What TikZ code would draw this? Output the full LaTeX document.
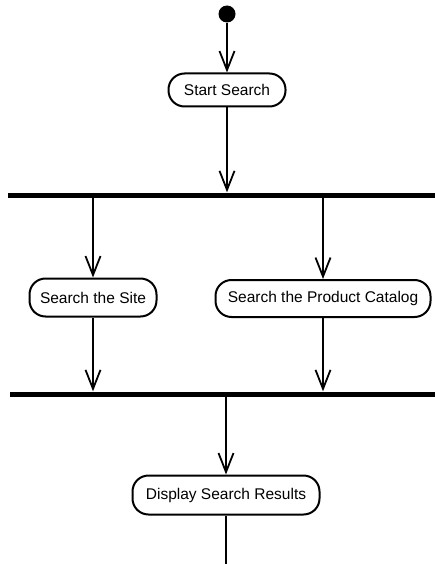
\documentclass[tikz,border=0pt]{standalone}
\usepackage{fontspec}
\setmainfont{Liberation Sans}
\usetikzlibrary{arrows.meta}
\begin{document}
\begin{tikzpicture}[x=1pt,y=-1pt,
  act/.style={draw, line width=2pt, rectangle, rounded corners=16pt, inner sep=0pt,
    font=\fontsize{15.5}{18}\selectfont},
  flow/.style={line width=2pt,
    -{Straight Barb[length=19pt,width=15pt,line width=1.8pt]}},
  plain/.style={line width=2pt},
  bar/.style={fill=black, inner sep=0pt, minimum height=5pt},
  initial/.style={fill=black, circle, inner sep=0pt, minimum size=17pt}]
\useasboundingbox (0,0) rectangle (435,564);

% activity nodes, fork/join bars and the initial state
\node[initial] (init) at (227,14) {};
\node[act, minimum width=117pt, minimum height=33pt] (start) at (227,90) {Start Search};
\node[bar, minimum width=427pt] (fork) at (221.5,195) {};
\node[act, minimum width=127pt, minimum height=38pt] (site) at (93,297.5) {Search the Site};
\node[act, minimum width=215pt, minimum height=37pt] (cat) at (323,298.5) {Search the Product Catalog};
\node[bar, minimum width=425pt] (join) at (222.5,394) {};
\node[act, minimum width=187pt, minimum height=39pt] (disp) at (226,495) {Display Search Results};
\coordinate (out) at (226,564);

% control flow
\draw[flow] (init) -- (init |- start.north);
\draw[flow] (start) -- (start |- fork.north);
\draw[flow] (site |- fork.south) -- (site.north);
\draw[flow] (cat |- fork.south) -- (cat.north);
\draw[flow] (site) -- (site |- join.north);
\draw[flow] (cat) -- (cat |- join.north);
\draw[flow] (disp |- join.south) -- (disp.north);
\draw[plain] (disp) -- (out);
\end{tikzpicture}
\end{document}
